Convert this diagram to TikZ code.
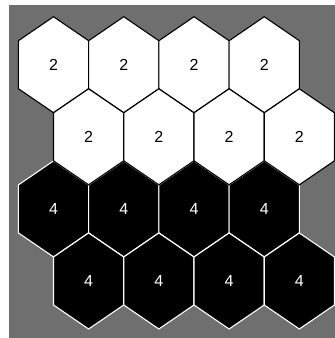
\documentclass[tikz,border=0pt]{standalone}
\usepackage{fontspec}
\setmainfont{Liberation Sans}
\definecolor{bggray}{RGB}{111,111,111}
\begin{document}
\begin{tikzpicture}[x=1pt,y=1pt,
  hexw/.style={fill=white,draw=black,line width=1.1pt,line join=miter},
  hexb/.style={fill=black,draw=white,line width=1.1pt,line join=miter},
  lblw/.style={font=\fontsize{16}{16}\selectfont,text=black,inner sep=0pt},
  lblb/.style={font=\fontsize{16}{16}\selectfont,text=white,inner sep=0pt}]
\useasboundingbox (0,0) rectangle (335,338);
\fill[bggray] (9,0) rectangle (335,333);
% black rows (3 and 4)
\foreach \r/\y/\x in {3/129.1/53.5, 4/57/88.6}{
  \foreach \c in {0,1,2,3}{
    \draw[hexb, shift={(\x+70.25*\c,\y)}]
      (0,48) -- (35.1,24) -- (35.1,-24) -- (0,-48) -- (-35.1,-24) -- (-35.1,24) -- cycle;
    \node[lblb] (b\r\c) at (\x+70.25*\c,\y) {4};
  }
}
% white rows (1 and 2)
\foreach \r/\y/\x in {1/273.3/53.5, 2/201.2/88.6}{
  \foreach \c in {0,1,2,3}{
    \draw[hexw, shift={(\x+70.25*\c,\y)}]
      (0,48) -- (35.1,24) -- (35.1,-24) -- (0,-48) -- (-35.1,-24) -- (-35.1,24) -- cycle;
    \node[lblw] (w\r\c) at (\x+70.25*\c,\y) {2};
  }
}
\end{tikzpicture}
\end{document}
